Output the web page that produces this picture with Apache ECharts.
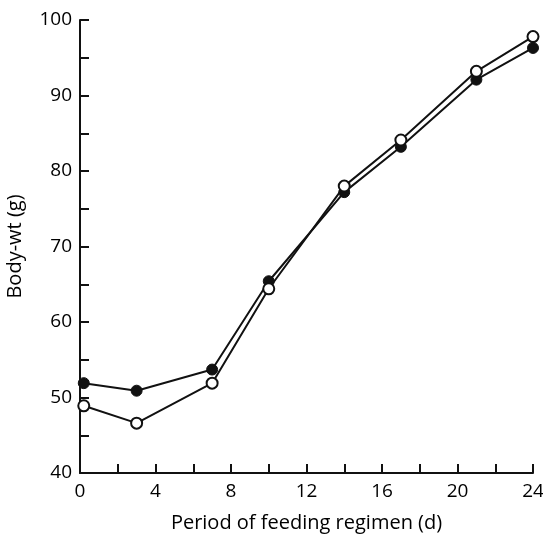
<!DOCTYPE html>
<html><head><meta charset="utf-8">
<script src="https://cdn.jsdelivr.net/npm/echarts@6/dist/echarts.min.js"></script>
<style>html,body{margin:0;padding:0;background:#fff}#c{width:543px;height:537px}</style>
</head><body><div id="c"></div>
<script>
var days = [0.2, 3, 7, 10, 14, 17, 21, 24];
var filledWt = [51.9, 50.9, 53.7, 65.4, 77.2, 83.2, 92.1, 96.3];
var openWt = [48.9, 46.6, 51.9, 64.4, 78.0, 84.1, 93.2, 97.8];
var xTitle = 'Period of feeding regimen (d)';
var yTitle = 'Body-wt (g)';

function pairs(xs, ys){ return xs.map(function(x,i){ return [x, ys[i]]; }); }
var font = '"Open Sans", Lato, sans-serif';
var chart = echarts.init(document.getElementById('c'));
chart.setOption({
  animation: false,
  grid: {left: 80, right: 10, top: 20, bottom: 64, outerBoundsMode: 'none', containLabel: false},
  xAxis: {
    type: 'value', min: 0, max: 24, interval: 2,
    name: xTitle, nameLocation: 'middle', nameGap: 40,
    nameTextStyle: {color: '#000', fontSize: 20, fontFamily: font},
    axisLine: {show: true, lineStyle: {color: '#111', width: 2}},
    axisTick: {show: true, inside: true, length: 9, lineStyle: {color: '#111', width: 2}},
    axisLabel: {color: '#000', fontSize: 19, fontFamily: font, margin: 9,
      formatter: function(v){ return v % 4 === 0 ? String(v) : ''; }},
    splitLine: {show: false}
  },
  yAxis: {
    type: 'value', min: 40, max: 100, interval: 5,
    name: yTitle, nameLocation: 'middle', nameGap: 55, nameRotate: 90,
    nameTextStyle: {color: '#000', fontSize: 20, fontFamily: font},
    axisLine: {show: true, lineStyle: {color: '#111', width: 2}},
    axisTick: {show: true, inside: true, length: 9, lineStyle: {color: '#111', width: 2}},
    axisLabel: {color: '#000', fontSize: 19, fontFamily: font, margin: 8,
      formatter: function(v){ return v % 10 === 0 ? String(v) : ''; }},
    splitLine: {show: false}
  },
  series: [
    {type: 'line', data: pairs(days, filledWt), symbol: 'circle', symbolSize: 11,
     lineStyle: {color: '#111', width: 2}, itemStyle: {color: '#111', borderColor: '#111', borderWidth: 1}},
    {type: 'line', data: pairs(days, openWt), symbol: 'circle', symbolSize: 11,
     lineStyle: {color: '#111', width: 2}, itemStyle: {color: '#fff', borderColor: '#111', borderWidth: 2}}
  ]
});
</script></body></html>
